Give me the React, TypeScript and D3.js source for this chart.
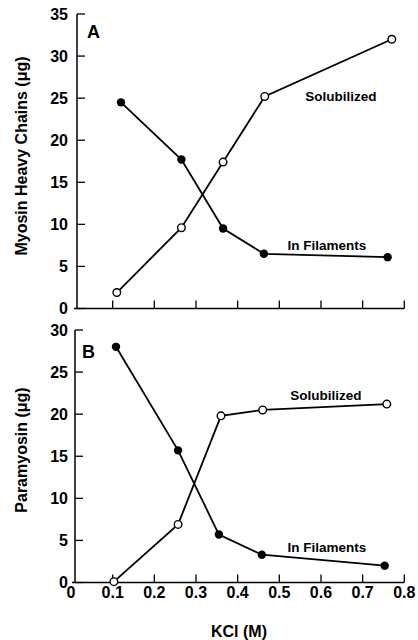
import React from "react";
import * as d3 from "d3";

// KCl concentrations (M) and amounts (µg)
const kclASol = [0.11, 0.265, 0.365, 0.465, 0.77];
const solA = [1.9, 9.6, 17.4, 25.2, 32.0];
const kclAFil = [0.12, 0.265, 0.365, 0.463, 0.76];
const filA = [24.5, 17.7, 9.5, 6.5, 6.1];

const kclBSol = [0.103, 0.257, 0.36, 0.46, 0.758];
const solB = [0.1, 6.9, 19.8, 20.5, 21.2];
const kclBFil = [0.108, 0.257, 0.355, 0.458, 0.753];
const filB = [28.0, 15.7, 5.7, 3.3, 2.0];

const xTicks = [0, 0.1, 0.2, 0.3, 0.4, 0.5, 0.6, 0.7, 0.8];
const yTicksA = [0, 5, 10, 15, 20, 25, 30, 35];
const yTicksB = [0, 5, 10, 15, 20, 25, 30];

const FONT = "'Liberation Sans', Arial, Helvetica, sans-serif";

type Pt = [number, number];

const zip = (xs: number[], ys: number[]): Pt[] => xs.map((x, i) => [x, ys[i]]);

function Panel(props: {
  y: d3.ScaleLinear<number, number>;
  x: d3.ScaleLinear<number, number>;
  yTicks: number[];
  axisX: number;
  sol: Pt[];
  fil: Pt[];
  letter: string;
  letterPos: [number, number];
  yLabel: string;
  yLabelPos: [number, number];
  solLabel: [number, number];
  filLabel: [number, number];
  showXLabels: boolean;
}) {
  const { x, y, yTicks, axisX, sol, fil } = props;
  const line = d3
    .line<Pt>()
    .x((d) => x(d[0]))
    .y((d) => y(d[1]));
  const y0 = y(0);
  const yTop = y(yTicks[yTicks.length - 1]);
  const xEnd = x(0.8);
  return (
    <g>
      {/* axes */}
      <line x1={axisX} x2={axisX} y1={yTop} y2={y0} stroke="#000" strokeWidth={1.5} />
      <line x1={axisX - 3} x2={xEnd} y1={y0} y2={y0} stroke="#000" strokeWidth={1.5} />
      {yTicks.map((t) => (
        <g key={t}>
          <line x1={axisX} x2={axisX + 8} y1={y(t)} y2={y(t)} stroke="#000" strokeWidth={1.3} />
          <text
            x={68}
            y={y(t)}
            dy="0.36em"
            textAnchor="end"
            fontFamily={FONT}
            fontWeight="bold"
            fontSize={16}
          >
            {t}
          </text>
        </g>
      ))}
      {xTicks.slice(1).map((t) => (
        <line key={t} x1={x(t)} x2={x(t)} y1={y0} y2={y0 - 8} stroke="#000" strokeWidth={1.3} />
      ))}
      {props.showXLabels &&
        xTicks.map((t) => (
          <text
            key={t}
            x={x(t)}
            y={y0 + 15}
            textAnchor="middle"
            fontFamily={FONT}
            fontWeight="bold"
            fontSize={16}
          >
            {t === 0 ? "0" : t.toFixed(1)}
          </text>
        ))}
      {/* series */}
      <path d={line(fil) || ""} fill="none" stroke="#000" strokeWidth={1.8} />
      <path d={line(sol) || ""} fill="none" stroke="#000" strokeWidth={1.8} />
      {fil.map((d, i) => (
        <circle key={"f" + i} cx={x(d[0])} cy={y(d[1])} r={4.2} fill="#000" />
      ))}
      {sol.map((d, i) => (
        <circle
          key={"s" + i}
          cx={x(d[0])}
          cy={y(d[1])}
          r={3.8}
          fill="#fff"
          stroke="#000"
          strokeWidth={1.4}
        />
      ))}
      {/* labels */}
      <text
        x={props.letterPos[0]}
        y={props.letterPos[1]}
        fontFamily={FONT}
        fontWeight="bold"
        fontSize={18}
      >
        {props.letter}
      </text>
      <text
        transform={`translate(${props.yLabelPos[0]},${props.yLabelPos[1]}) rotate(-90)`}
        textAnchor="middle"
        fontFamily={FONT}
        fontWeight="bold"
        fontSize={16}
      >
        {props.yLabel}
      </text>
      <text
        x={props.solLabel[0]}
        y={props.solLabel[1]}
        textAnchor="middle"
        fontFamily={FONT}
        fontWeight="bold"
        fontSize={13.5}
      >
        Solubilized
      </text>
      <text
        x={props.filLabel[0]}
        y={props.filLabel[1]}
        textAnchor="middle"
        fontFamily={FONT}
        fontWeight="bold"
        fontSize={13.5}
      >
        In Filaments
      </text>
    </g>
  );
}

export default function App() {
  const x = d3.scaleLinear().domain([0, 0.8]).range([71, 404.3]);
  const yA = d3.scaleLinear().domain([0, 35]).range([308.5, 14]);
  const yB = d3.scaleLinear().domain([0, 30]).range([582.5, 330]);
  return (
    <svg
      width={418}
      height={640}
      style={{ position: "absolute", left: 0, top: 0, background: "#fff" }}
    >
      <rect width={418} height={640} fill="#fff" />
      <Panel
        x={x}
        y={yA}
        yTicks={yTicksA}
        axisX={77}
        sol={zip(kclASol, solA)}
        fil={zip(kclAFil, filA)}
        letter="A"
        letterPos={[87, 38]}
        yLabel="Myosin Heavy Chains (μg)"
        yLabelPos={[27, 156]}
        solLabel={[341, 101]}
        filLabel={[327, 250]}
        showXLabels={false}
      />
      <Panel
        x={x}
        y={yB}
        yTicks={yTicksB}
        axisX={75}
        sol={zip(kclBSol, solB)}
        fil={zip(kclBFil, filB)}
        letter="B"
        letterPos={[82, 358]}
        yLabel="Paramyosin (μg)"
        yLabelPos={[27, 450]}
        solLabel={[326, 400]}
        filLabel={[327, 552]}
        showXLabels={true}
      />
      <text
        x={239}
        y={637}
        textAnchor="middle"
        fontFamily={FONT}
        fontWeight="bold"
        fontSize={16}
      >
        KCl (M)
      </text>
    </svg>
  );
}
